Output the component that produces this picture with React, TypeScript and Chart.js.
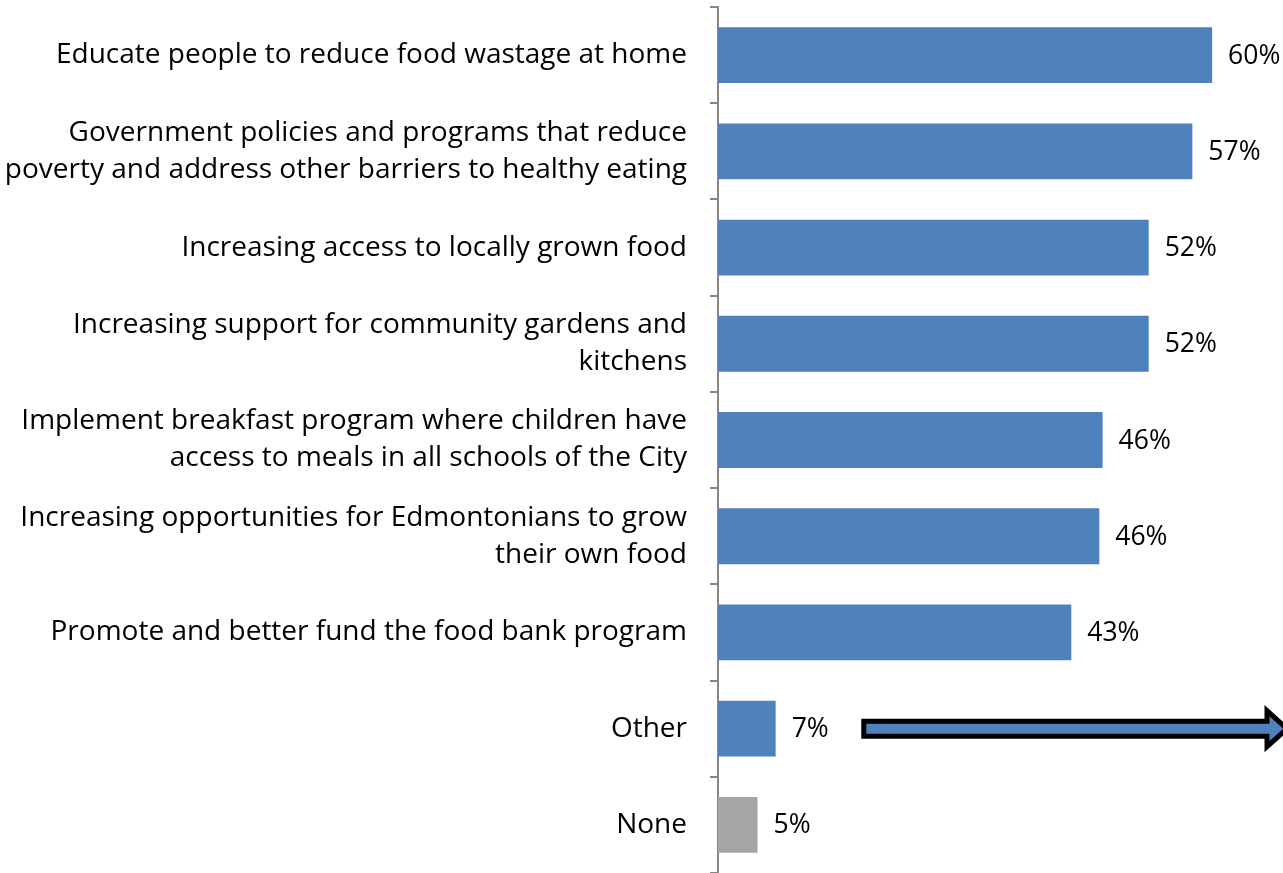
import React, { useEffect, useRef } from "react";
import { Chart, registerables } from "chart.js";

Chart.register(...registerables);

const categories: (string | string[])[] = [
  "Educate people to reduce food wastage at home",
  ["Government policies and programs that reduce", "poverty and address other barriers to healthy eating"],
  "Increasing access to locally grown food",
  ["Increasing support for community gardens and", "kitchens"],
  ["Implement breakfast program where children have", "access to meals in all schools of the City"],
  ["Increasing opportunities for Edmontonians to grow", "their own food"],
  "Promote and better fund the food bank program",
  "Other",
  "None",
];
const values = [60.0, 57.6, 52.3, 52.3, 46.7, 46.3, 42.9, 7.0, 4.8];
const valueLabels = ["60%", "57%", "52%", "52%", "46%", "46%", "43%", "7%", "5%"];
const barColors = ["#4F81BD", "#4F81BD", "#4F81BD", "#4F81BD", "#4F81BD", "#4F81BD", "#4F81BD", "#4F81BD", "#A5A5A5"];
// arrow annotation on the "Other" row, from this x-value to the right edge
const arrowRowIndex = 7;
const arrowStartValue = 17.7;

const FONT = "'Open Sans', 'Noto Sans', sans-serif";

export default function App() {
  const ref = useRef<HTMLCanvasElement | null>(null);
  useEffect(() => {
    document.body.style.margin = "0";
    const canvas = ref.current!;
    const labelsPlugin = {
      id: "valueLabels",
      afterDatasetsDraw(chart: any) {
        const ctx = chart.ctx;
        const meta = chart.getDatasetMeta(0);
        ctx.save();
        ctx.font = `26.5px ${FONT}`;
        ctx.fillStyle = "#000";
        ctx.textAlign = "left";
        ctx.textBaseline = "middle";
        meta.data.forEach((bar: any, i: number) => {
          ctx.fillText(valueLabels[i], bar.x + 16, bar.y + 1);
        });
        ctx.restore();
      },
      afterDraw(chart: any) {
        const ctx = chart.ctx;
        const xs = chart.scales.x;
        const ys = chart.scales.y;
        const y = ys.getPixelForValue(arrowRowIndex);
        const x0 = xs.getPixelForValue(arrowStartValue);
        const x1 = chart.width + 4;
        const shaftH = 15;
        const headH = 18;
        const headL = 20;
        ctx.save();
        ctx.beginPath();
        ctx.moveTo(x0, y - shaftH / 2);
        ctx.lineTo(x1 - headL, y - shaftH / 2);
        ctx.lineTo(x1 - headL, y - headH);
        ctx.lineTo(x1, y);
        ctx.lineTo(x1 - headL, y + headH);
        ctx.lineTo(x1 - headL, y + shaftH / 2);
        ctx.lineTo(x0, y + shaftH / 2);
        ctx.closePath();
        ctx.fillStyle = "#4F81BD";
        ctx.fill();
        ctx.lineWidth = 5;
        ctx.lineJoin = "miter";
        ctx.strokeStyle = "#000";
        ctx.stroke();
        ctx.restore();
      },
    };
    const chart = new Chart(canvas, {
      type: "bar",
      data: {
        labels: categories,
        datasets: [
          {
            data: values,
            backgroundColor: barColors,
            barPercentage: 0.58,
            categoryPercentage: 1,
          },
        ],
      },
      options: {
        indexAxis: "y",
        animation: false,
        responsive: false,
        devicePixelRatio: 1,
        layout: { padding: { top: 7, right: 5, bottom: 0, left: 0 } },
        plugins: { legend: { display: false }, tooltip: { enabled: false } },
        scales: {
          x: {
            display: false,
            min: 0,
            max: 68,
          },
          y: {
            offset: true,
            afterFit(scale: any) {
              scale.width = 718;
              scale.paddingTop = 0;
              scale.paddingBottom = 0;
            },
            border: { display: true, color: "#878787", width: 2 },
            grid: {
              offset: true,
              drawOnChartArea: false,
              drawTicks: true,
              tickLength: 8,
              color: "#878787",
              lineWidth: 2,
            },
            ticks: {
              color: "#000",
              padding: 23,
              font: { family: FONT, size: 28, lineHeight: 1.32 },
            },
          },
        },
      },
      plugins: [labelsPlugin],
    });
    return () => chart.destroy();
  }, []);
  return <canvas ref={ref} width={1283} height={873} style={{ display: "block" }} />;
}
